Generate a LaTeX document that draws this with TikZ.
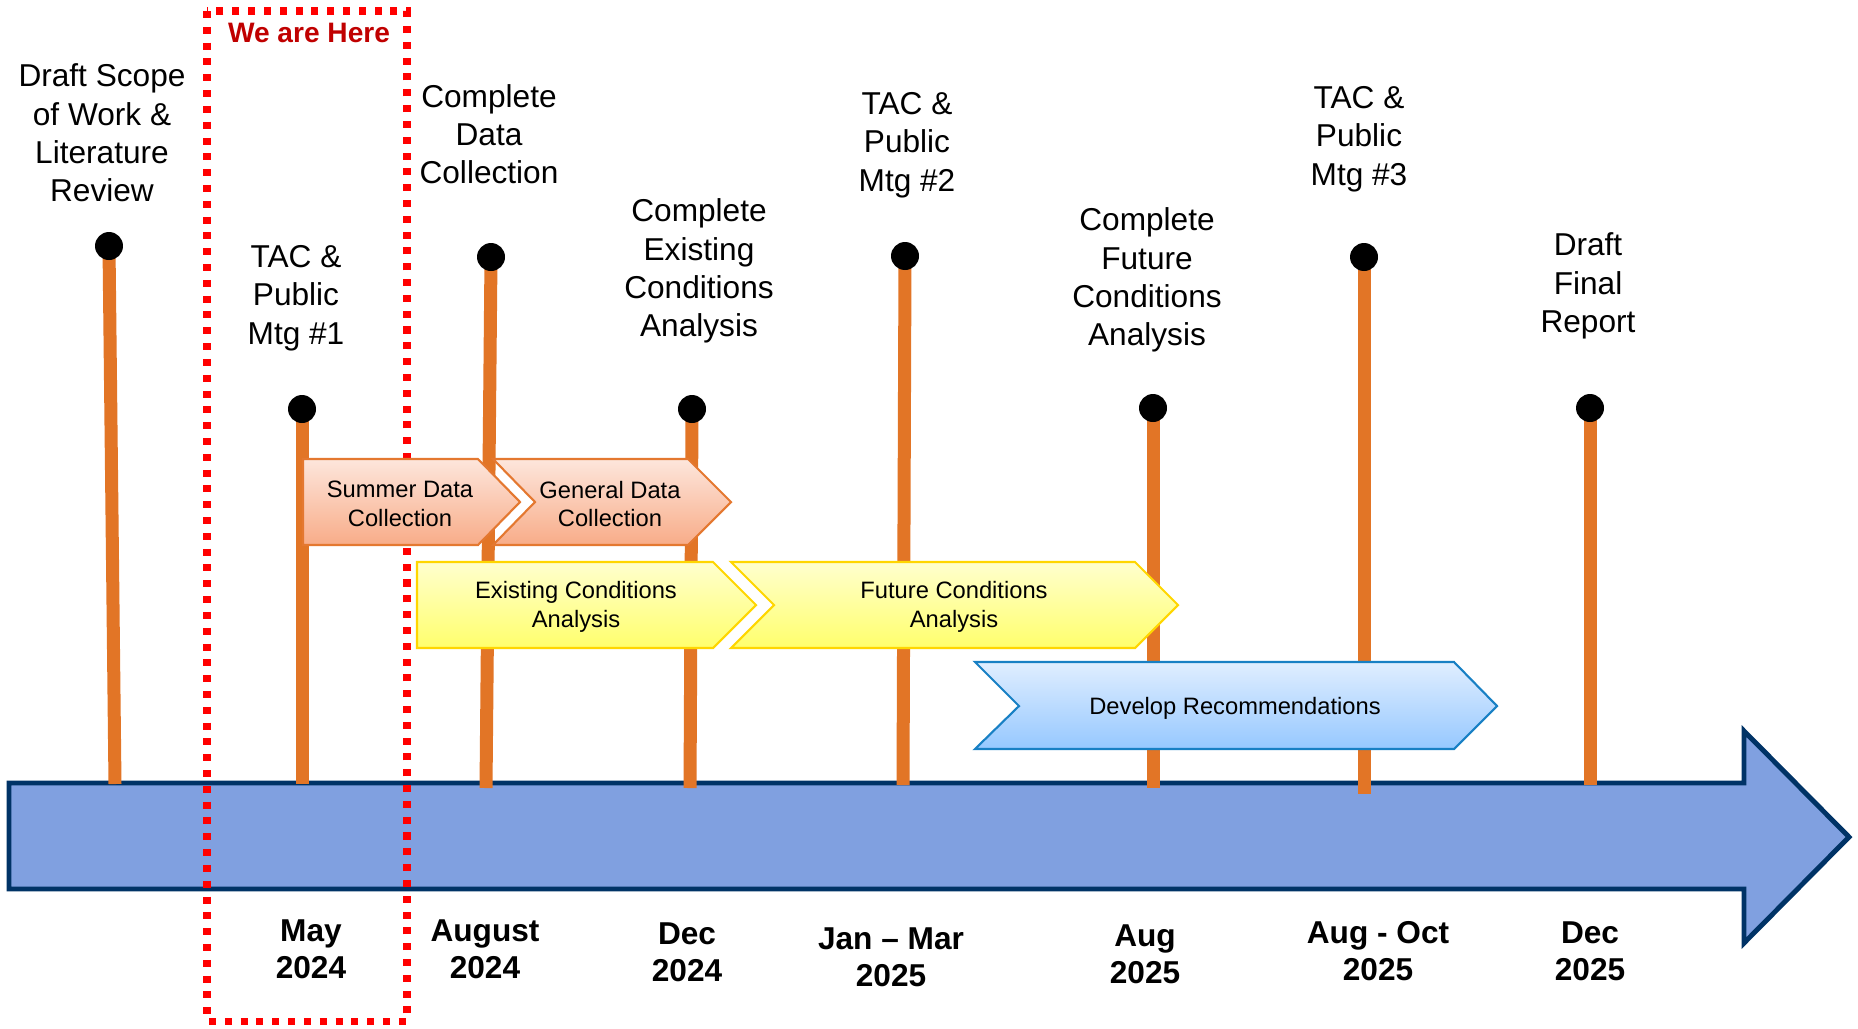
\documentclass[tikz,border=0pt]{standalone}
\usepackage{fontspec}
\setmainfont{Liberation Sans}
\definecolor{poleorange}{RGB}{226,117,38}
\definecolor{axisblue}{RGB}{128,160,224}
\definecolor{axisedge}{RGB}{0,51,102}
\definecolor{herered}{RGB}{192,0,0}
\definecolor{boxred}{RGB}{255,0,0}
\definecolor{salmonlight}{RGB}{253,230,220}
\definecolor{salmondark}{RGB}{248,172,136}
\definecolor{salmonedge}{RGB}{228,120,48}
\definecolor{yellowlight}{RGB}{255,255,206}
\definecolor{yellowdark}{RGB}{255,255,108}
\definecolor{yellowedge}{RGB}{255,214,0}
\definecolor{bluelight}{RGB}{224,238,255}
\definecolor{bluedark}{RGB}{150,200,255}
\definecolor{blueedge}{RGB}{24,128,196}
\pgfdeclarelayer{background}
\pgfsetlayers{background,main}
\begin{document}
\begin{tikzpicture}[x=0.02cm,y=-0.02cm,
milestone/.style={align=center,font=\fontsize{18}{21.8}\selectfont},
datelabel/.style={align=center,font=\fontsize{18}{21}\selectfont\bfseries},
task/.style={align=center,font=\fontsize{13.5}{16.4}\selectfont},
dot/.style={circle,fill=black,inner sep=0pt,minimum size=0.56cm},
pole/.style={line width=7.4pt,draw=poleorange},
salmonbar/.style={top color=salmonlight,bottom color=salmondark,draw=salmonedge,line width=1.2pt},
yellowbar/.style={top color=yellowlight,bottom color=yellowdark,draw=yellowedge,line width=1.2pt},
bluebar/.style={top color=bluelight,bottom color=bluedark,draw=blueedge,line width=1.2pt}]
\useasboundingbox (0,0) rectangle (1858,1028);

% milestones on top
\node[milestone] (draft) at (102,133) {Draft Scope\\of Work \&\\Literature\\Review};
\node[milestone] (tac1) at (296,298) {TAC \&\\Public\\Mtg \#1};
\node[milestone] (data) at (489,134) {Complete\\Data\\Collection};
\node[milestone] (exist) at (699,271) {Complete\\Existing\\Conditions\\Analysis};
\node[milestone] (tac2) at (907,145) {TAC \&\\Public\\Mtg \#2};
\node[milestone] (future) at (1147,280) {Complete\\Future\\Conditions\\Analysis};
\node[milestone] (tac3) at (1359,139) {TAC \&\\Public\\Mtg \#3};
\node[milestone] (report) at (1588,286) {Draft\\Final\\Report};

\node[dot] (draftdot) at (109,246) {};
\node[dot] (tac1dot) at (302,409) {};
\node[dot] (datadot) at (491,257) {};
\node[dot] (existdot) at (692,409) {};
\node[dot] (tac2dot) at (905,256) {};
\node[dot] (futuredot) at (1153,408) {};
\node[dot] (tac3dot) at (1364,257) {};
\node[dot] (reportdot) at (1590,408) {};

\coordinate (draftbase) at (115,784);
\coordinate (tac1base) at (302,784);
\coordinate (database) at (486,788);
\coordinate (existbase) at (690,788);
\coordinate (tac2base) at (903,785);
\coordinate (futurebase) at (1153,788);
\coordinate (tac3base) at (1364,794);
\coordinate (reportbase) at (1590,785);

\begin{pgfonlayer}{background}
% time axis
\draw[fill=axisblue,draw=axisedge,line width=2.8pt,line join=miter]
  (9,783) -- (1744,783) -- (1744,731) -- (1849,837) -- (1744,943) -- (1744,889) -- (9,889) -- cycle;
% we are here
\draw[boxred,line width=4pt,dash pattern=on 4pt off 5pt] (207,11) rectangle (407,1021);
\draw[pole] (draftdot.center) -- (draftbase);
\draw[pole] (tac1dot.center) -- (tac1base);
\draw[pole] (datadot.center) -- (database);
\draw[pole] (existdot.center) -- (existbase);
\draw[pole] (tac2dot.center) -- (tac2base);
\draw[pole] (futuredot.center) -- (futurebase);
\draw[pole] (tac3dot.center) -- (tac3base);
\draw[pole] (reportdot.center) -- (reportbase);
\end{pgfonlayer}

\node[text=herered,font=\fontsize{16}{19}\selectfont\bfseries] (here) at (309,33) {We are Here};

% task bars
\draw[salmonbar] (303,459) -- (478,459) -- (520,502) -- (478,545) -- (303,545) -- cycle;
\draw[salmonbar] (493,459) -- (688,459) -- (731,502) -- (688,545) -- (493,545) -- (535,502) -- cycle;
\draw[yellowbar] (417,562) -- (713,562) -- (756,605) -- (713,648) -- (417,648) -- cycle;
\draw[yellowbar] (731,562) -- (1135,562) -- (1178,605) -- (1135,648) -- (731,648) -- (774,605) -- cycle;
\draw[bluebar] (975,662) -- (1454,662) -- (1497,706) -- (1454,749) -- (975,749) -- (1019,706) -- cycle;
\node[task] (summer) at (400,504) {Summer Data\\Collection};
\node[task] (general) at (610,504) {General Data\\Collection};
\node[task] (existing) at (576,607) {Existing Conditions\\Analysis};
\node[task] (futureca) at (954,607) {Future Conditions\\Analysis};
\node[task] (recommend) at (1235,708) {Develop Recommendations};

% dates below
\node[datelabel] (may24) at (311,949) {May\\2024};
\node[datelabel] (aug24) at (485,949) {August\\2024};
\node[datelabel] (dec24) at (687,952) {Dec\\2024};
\node[datelabel] (janmar25) at (891,957) {Jan -- Mar\\2025};
\node[datelabel] (aug25) at (1145,954) {Aug\\2025};
\node[datelabel] (augoct25) at (1378,951) {Aug - Oct\\2025};
\node[datelabel] (dec25) at (1590,951) {Dec\\2025};
\end{tikzpicture}
\end{document}
